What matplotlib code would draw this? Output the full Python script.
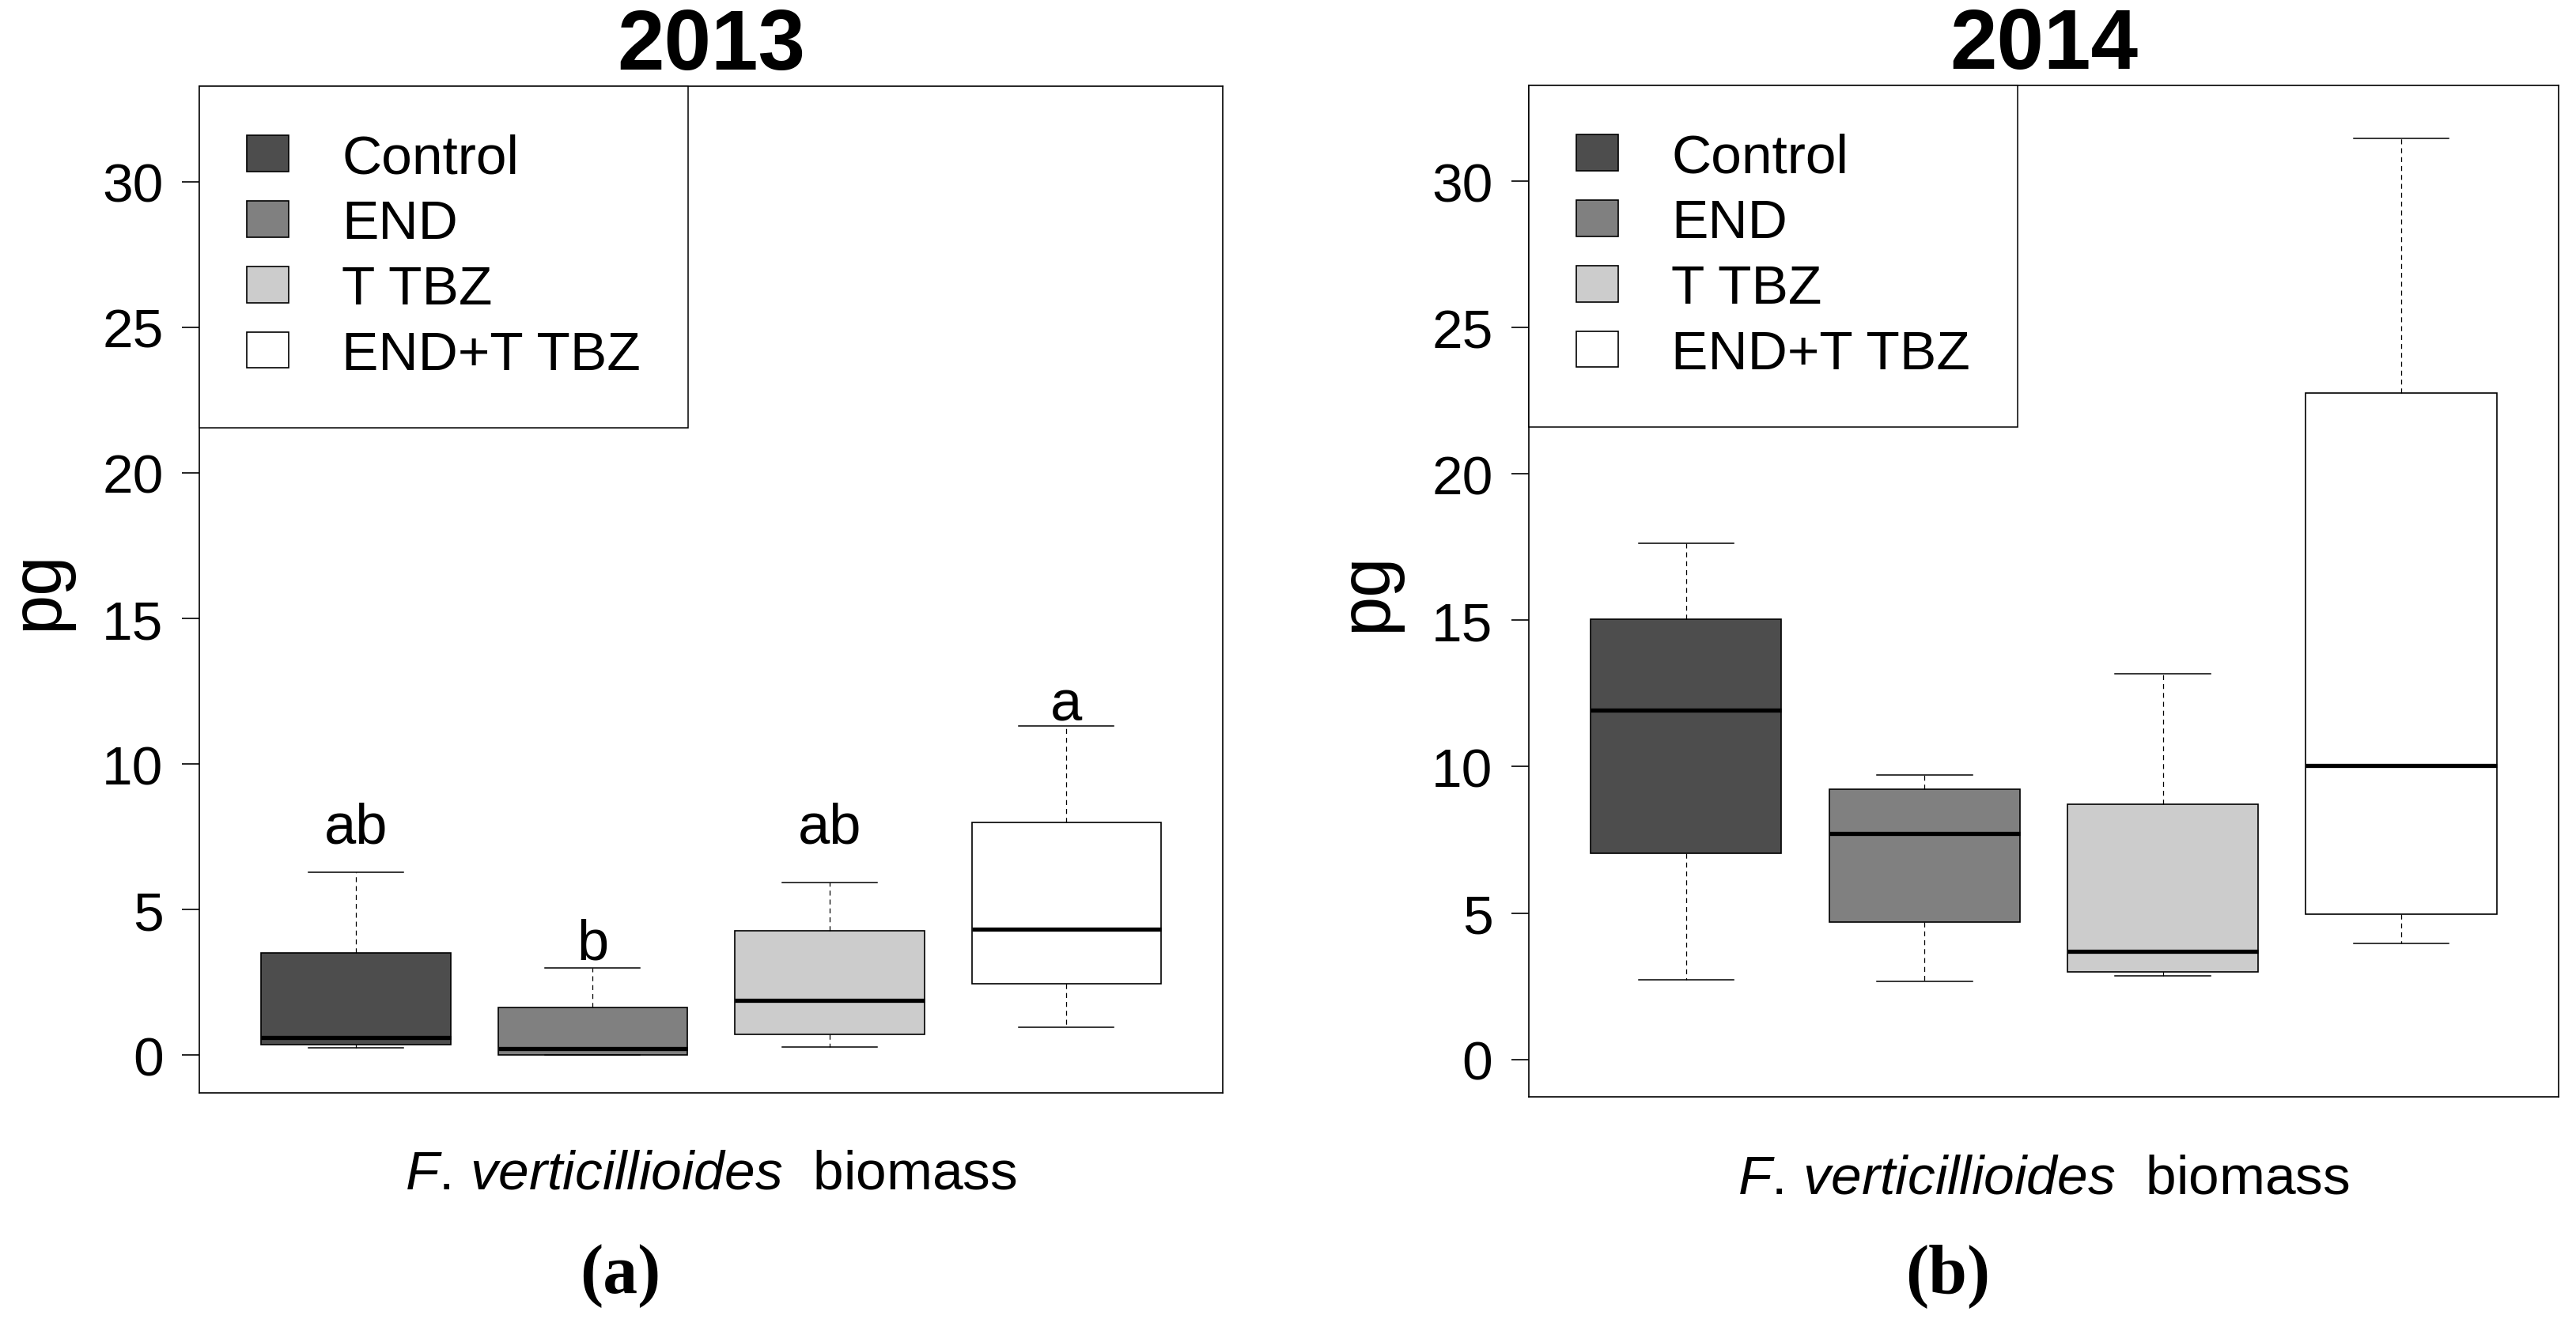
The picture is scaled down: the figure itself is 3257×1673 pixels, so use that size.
import matplotlib
matplotlib.use("Agg")
import matplotlib.pyplot as plt
from matplotlib.patches import Patch

# Data
groups = ['Control', 'END', 'T TBZ', 'END+T TBZ']
fills = ['#4d4d4d', '#808080', '#cccccc', '#ffffff']
years = ['2013', '2014']
panel_tags = ['(a)', '(b)']

# 2013 box stats
lo_2013 = [0.25, 0.00, 0.27, 0.97]
q1_2013 = [0.36, 0.02, 0.71, 2.45]
med_2013 = [0.62, 0.22, 1.89, 4.34]
q3_2013 = [3.52, 1.65, 4.28, 7.99]
hi_2013 = [6.29, 3.00, 5.94, 11.30]

# 2014 box stats
lo_2014 = [2.71, 2.67, 2.85, 3.97]
q1_2014 = [7.05, 4.70, 2.98, 4.97]
med_2014 = [11.94, 7.71, 3.68, 10.04]
q3_2014 = [15.04, 9.23, 8.72, 22.78]
hi_2014 = [17.63, 9.72, 13.18, 31.47]

# significance letters (2013 only)
letters_2013 = ['ab', 'b', 'ab', 'a']
letter_y_2013 = [7.3, 3.3, 7.3, 11.5]

y_ticks = [0, 5, 10, 15, 20, 25, 30]

plt.rcParams['font.family'] = ['Liberation Sans', 'DejaVu Sans']
plt.rcParams['mathtext.fontset'] = 'custom'
plt.rcParams['mathtext.rm'] = 'Liberation Sans'
plt.rcParams['mathtext.it'] = 'Liberation Sans:italic'

fig = plt.figure(figsize=(32.57, 16.74), dpi=100)
ax1 = fig.add_axes([0.0774, 0.1741, 0.3973, 0.7602])
ax2 = fig.add_axes([0.5935, 0.1709, 0.3997, 0.7640])


def make_stats(lo, q1, med, q3, hi):
    return [dict(whislo=a, q1=b, med=c, q3=d, whishi=e, fliers=[])
            for a, b, c, d, e in zip(lo, q1, med, q3, hi)]


all_stats = [make_stats(lo_2013, q1_2013, med_2013, q3_2013, hi_2013),
             make_stats(lo_2014, q1_2014, med_2014, q3_2014, hi_2014)]

positions = list(range(1, len(groups) + 1))

for k, ax in enumerate([ax1, ax2]):
    parts = ax.bxp(all_stats[k], positions=positions, widths=0.8,
                   capwidths=0.4, patch_artist=True, showfliers=False,
                   boxprops=dict(edgecolor='black', linewidth=1.2),
                   whiskerprops=dict(color='black', linewidth=0.9,
                                     linestyle=(0, (5, 4))),
                   capprops=dict(color='black', linewidth=1.1),
                   medianprops=dict(color='black', linewidth=3.8,
                                    solid_capstyle='butt'))
    for box, c in zip(parts['boxes'], fills):
        box.set_facecolor(c)

    ax.set_xlim(0.34, 4.66)
    ax.set_ylim(-1.28, 33.28)
    ax.set_xticks([])
    ax.set_yticks(y_ticks)
    ax.set_yticklabels([str(t) for t in y_ticks])
    ax.tick_params(axis='y', direction='out', length=15.8, width=1.2,
                   pad=17, labelsize=50)
    for sp in ax.spines.values():
        sp.set_linewidth(1.2)

    ax.set_title(years[k], fontsize=77, fontweight='bold', pad=-2)
    ax.set_ylabel('pg', fontsize=65)
    ax.yaxis.set_label_coords(-0.124, 0.5)
    ax.set_xlabel(r'$\mathit{F.\,verticillioides}$  biomass', fontsize=50)
    ax.xaxis.label.set_va('baseline')
    ax.xaxis.set_label_coords(0.5, -0.095)

    handles = [Patch(facecolor=c, edgecolor='black', linewidth=1.2)
               for c in fills]
    leg = ax.legend(handles, groups, loc='upper left', borderaxespad=0,
                    fontsize=50, handlelength=0.764, handleheight=0.634,
                    handletextpad=0.97, borderpad=0.86, labelspacing=0.27,
                    fancybox=False, framealpha=1, edgecolor='black')
    leg.get_frame().set_linewidth(1.1)

    fig.text(0.2407 if k == 0 else 0.7562, 0.0235, panel_tags[k],
             family=['Liberation Serif', 'DejaVu Serif'], fontweight='bold',
             fontsize=63, ha='center', va='baseline')

for x, y, s in zip(positions, letter_y_2013, letters_2013):
    ax1.text(x, y, s, fontsize=52, ha='center', va='baseline')

fig.savefig('out.png', dpi=100)
